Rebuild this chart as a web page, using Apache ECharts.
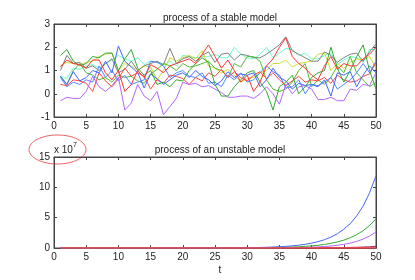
<!DOCTYPE html>
<html><head><meta charset="utf-8">
<script src="https://cdn.jsdelivr.net/npm/echarts@6/dist/echarts.min.js"></script>
<style>html,body{margin:0;padding:0;background:#fff}#c{width:415px;height:280px}</style>
</head><body><div id="c"></div>
<script>
// ---- data ----
const tValues = [1,2,3,4,5,6,7,8,9,10,11,12,13,14,15,16,17,18,19,20,21,22,23,24,25,26,27,28,29,30,31,32,33,34,35,36,37,38,39,40,41,42,43,44,45,46,47,48,49,50];
const xTicks = [0,5,10,15,20,25,30,35,40,45,50];
const stableTitle = "process of a stable model";
const unstableTitle = "process of an unstable model";
const xLabel = "t";

const stableGray   = [1.0,1.65,1.3,1.35,1.1,1.2,1.0,1.3,1.5,0.9,1.05,1.4,1.0,1.2,1.3,1.4,1.25,1.95,1.3,1.5,1.6,1.4,1.65,1.8,1.35,1.7,1.75,1.45,1.7,1.65,1.55,1.55,1.7,1.9,2.1,2.45,1.85,1.7,1.55,1.4,1.4,1.8,1.65,1.35,1.55,1.7,1.75,1.4,1.8,2.15];
const stableRed1   = [1.15,1.45,1.3,1.25,1.1,1.45,1.45,0.9,0.6,1.0,0.1,0.4,1.0,0.7,1.25,1.1,0.9,1.2,1.3,1.4,1.5,1.3,1.7,2.1,1.6,1.1,1.45,1.0,0.5,0.8,0.1,0.5,1.2,1.5,2.0,2.4,1.6,1.3,1.1,0.8,0.6,1.2,1.6,1.05,1.3,1.2,1.2,1.5,1.7,2.0];
const stableRed2   = [0.4,0.35,0.6,0.55,0.45,0.1,0.9,0.55,0.3,0.65,1.1,0.75,0.9,0.75,0.2,0.6,0.45,0.8,0.75,0.65,0.4,0.7,0.55,0.9,0.75,1.05,0.7,0.95,0.7,0.55,0.8,0.95,0.65,0.9,0.6,0.35,0.55,0.75,0.5,0.6,0.55,0.7,0.45,0.8,0.6,0.5,0.55,0.75,0.85,1.35];
const stableGreen1 = [1.65,1.9,1.4,1.2,1.3,1.6,1.55,1.75,1.75,1.0,1.5,1.9,1.1,0.8,1.0,0.4,0.5,0.3,0.6,0.55,1.0,1.3,1.55,1.35,0.4,-0.1,-0.1,0.3,0.6,0.9,1.0,0.5,0.1,-0.7,0.3,0.5,0.8,0.0,0.3,0.7,0.9,1.0,2.0,1.1,0.5,1.0,1.6,2.1,1.0,0.2];
const stableGreen2 = [0.75,0.4,1.0,1.3,0.9,0.8,0.6,0.7,0.5,0.8,0.7,0.75,0.55,0.45,0.85,1.05,1.3,1.2,1.0,1.3,1.15,1.2,1.3,1.4,1.1,1.0,0.7,1.3,1.15,1.6,1.6,1.4,0.6,0.2,0.1,0.2,0.5,1.0,1.3,0.3,0.6,0.4,0.7,1.2,0.9,1.6,0.9,0.6,0.3,0.5];
const stableBlue1  = [0.75,0.4,0.95,0.55,0.7,1.0,0.9,1.4,0.9,2.05,1.4,1.15,0.9,0.25,0.85,0.65,0.4,0.6,0.8,0.9,0.7,1.0,0.75,0.6,0.35,0.55,0.95,0.7,0.85,0.8,0.9,0.3,0.6,1.1,0.7,0.55,0.2,0.45,0.35,0.4,0.3,0.6,-0.1,0.9,0.8,0.95,0.3,0.8,1.2,0.9];
const stableBlue2  = [0.7,0.3,0.5,0.4,0.6,0.5,1.2,0.7,1.0,0.55,0.8,0.4,0.5,0.6,1.4,1.35,1.2,0.7,0.9,1.0,0.75,0.7,0.9,0.45,0.5,0.3,0.8,0.6,0.9,0.5,0.6,0.9,1.2,0.95,0.8,0.25,0.3,0.6,0.0,0.4,0.35,0.5,0.7,0.2,0.4,0.6,0.9,1.3,0.9,1.4];
const stablePurple = [-0.3,-0.15,-0.2,-0.2,0.1,0.75,0.3,0.1,0.35,0.7,-0.7,-0.4,0.4,-0.1,-0.3,0.1,-0.9,-0.55,-0.2,0.5,0.4,0.45,0.3,0.35,0.2,0.05,-0.15,-0.15,-0.1,-0.1,-0.2,0.0,0.3,0.0,-0.45,0.4,0.0,0.3,0.35,0.2,-0.25,-0.25,-0.15,-0.3,-0.3,0.2,0.15,0.4,0.35,0.9];
const stableAqua   = [0.75,0.65,1.1,1.05,1.2,1.25,1.1,1.3,1.45,1.65,1.5,1.4,1.55,1.25,1.4,1.35,1.25,1.4,1.2,1.65,1.6,1.55,1.6,1.6,1.7,1.55,1.55,2.0,1.7,1.55,1.5,1.7,2.0,1.55,1.75,1.95,1.9,1.65,1.75,1.5,1.5,1.65,1.75,1.25,1.45,1.6,1.55,1.35,1.9,1.9];
const stableYellow = [1.2,1.35,1.3,1.25,1.35,1.4,1.6,1.7,1.75,1.0,1.3,1.2,1.0,1.2,1.15,0.6,1.0,1.55,1.4,1.55,1.65,1.5,1.85,1.2,1.1,0.9,1.05,0.8,0.5,0.65,0.7,0.9,1.0,1.3,1.3,1.45,1.15,1.3,1.35,1.4,1.7,1.75,1.0,1.3,1.1,1.35,1.5,1.45,1.6,1.1];

// unstable process, in units of 1e7
const unstableBlue   = [0,0,0,0,0,0,0,0,0,0,0,0,0,0.001,0.001,0.001,0.002,0.002,0.003,0.004,0.005,0.006,0.008,0.011,0.014,0.018,0.024,0.031,0.041,0.054,0.071,0.093,0.12,0.16,0.21,0.27,0.36,0.47,0.61,0.8,1.05,1.37,1.8,2.35,3.1,4.0,5.3,6.9,9.1,11.9];
const unstableGreen  = [0,0,0,0,0,0,0,0,0,0,0,0,0,0,0,0,0,0.001,0.001,0.001,0.002,0.002,0.003,0.004,0.005,0.007,0.009,0.011,0.015,0.025,0.033,0.042,0.055,0.072,0.093,0.12,0.16,0.21,0.27,0.35,0.45,0.59,0.77,1.0,1.3,1.7,2.2,2.85,3.7,4.8];
const unstablePurple = [0,0,0,0,0,0,0,0,0,0,0,0,0,0,0,0,0,0,0,0,0,0.001,0.001,0.001,0.002,0.002,0.003,0.004,0.005,0.007,0.009,0.012,0.017,0.023,0.031,0.042,0.057,0.077,0.1,0.14,0.18,0.25,0.33,0.45,0.6,0.81,1.09,1.47,1.97,2.65];
const unstableDark   = [0,0,0,0,0,0,0,0,0,0,0,0,0,0,0,0,0,0,0,0,0,0,0,0,0,0,0,0,0.001,0.001,0.002,0.002,0.003,0.004,0.005,0.007,0.009,0.012,0.015,0.02,0.026,0.034,0.044,0.057,0.074,0.096,0.12,0.16,0.21,0.27];
const unstableRed    = [0,0,0,0,0,0,0,0,0,0,0,0,0,0,0,0,0,0,0,0,0,0,0,0,0,0,0,0,0,0,0,0,0,0,0,0,0,0,0,0,0,0,0,0,0,0,0,0,0,0];
const stableTicks = [-1,0,1,2,3];
const unstableTicks = [0,5,10,15];

// ---- chart ----
const FONT = "Liberation Sans";
const pairs = arr => arr.map((v,i)=>[tValues[i], v]);
const stableSet = [
  [stableAqua,'#66ffcc'],[stableYellow,'#ccdd33'],[stableGray,'#808080'],[stableGreen2,'#55bb33'],
  [stableBlue2,'#5588ff'],[stableRed2,'#ff4444'],[stablePurple,'#b366ff'],[stableBlue1,'#4466ff'],
  [stableGreen1,'#33aa33'],[stableRed1,'#ff3333']
];
const unstableSet = [
  [unstableDark,'#993366'],[unstablePurple,'#b366ff'],[unstableGreen,'#33aa33'],[unstableBlue,'#4466ff'],[unstableRed,'#ff4444']
];
const axisLine = {show:true, onZero:false, lineStyle:{color:'#444', width:1}};
const tick = {show:true, inside:true, length:3, lineStyle:{color:'#444'}};
const lbl = {color:'#222', fontSize:10, fontFamily:FONT};

function xAxes(gi){
  return [
    {gridIndex:gi, type:'value', min:0, max:50, interval:5, position:'bottom',
     axisLine, axisTick:tick, axisLabel:Object.assign({margin:4, formatter:v=>xTicks.includes(v)?String(v):''},lbl), splitLine:{show:false}},
    {gridIndex:gi, type:'value', min:0, max:50, interval:5, position:'top',
     axisLine, axisTick:tick, axisLabel:{show:false}, splitLine:{show:false}}
  ];
}
function yAxes(gi,min,max,iv,ticks){
  return [
    {gridIndex:gi, type:'value', min, max, interval:iv, position:'left',
     axisLine, axisTick:tick, axisLabel:Object.assign({margin:4, formatter:v=>ticks.includes(v)?String(v):''},lbl), splitLine:{show:false}},
    {gridIndex:gi, type:'value', min, max, interval:iv, position:'right',
     axisLine, axisTick:tick, axisLabel:{show:false}, splitLine:{show:false}}
  ];
}
const series = [];
stableSet.forEach(([d,c])=>series.push({type:'line', xAxisIndex:0, yAxisIndex:0, data:pairs(d), showSymbol:false, symbol:'none', lineStyle:{color:c, width:1}, silent:true, animation:false}));
unstableSet.forEach(([d,c],i)=>series.push({type:'line', xAxisIndex:2, yAxisIndex:2, data:pairs(d), showSymbol:false, symbol:'none', lineStyle:{color:c, width: i===unstableSet.length-1?1.6:1}, silent:true, animation:false}));

const chart = echarts.init(document.getElementById('c'), null, {renderer:'canvas'});
chart.setOption({
  backgroundColor:'#fff',
  animation:false,
  title:[
    {text:stableTitle, left:215, top:8, textAlign:'center', textStyle:{fontSize:10, fontWeight:'normal', color:'#222', fontFamily:FONT}},
    {text:unstableTitle, left:215, top:140, textAlign:'center', textStyle:{fontSize:10, fontWeight:'normal', color:'#222', fontFamily:FONT}},
    {text:xLabel, left:215, top:260, textAlign:'center', textStyle:{fontSize:10, fontWeight:'normal', color:'#222', fontFamily:FONT}}
  ],
  grid:[
    {left:54, top:24, width:322, height:93, show:true, borderColor:'#444', borderWidth:1, backgroundColor:'transparent'},
    {left:54, top:157, width:322, height:91, show:true, borderColor:'#444', borderWidth:1, backgroundColor:'transparent'}
  ],
  xAxis:[...xAxes(0), ...xAxes(1)],
  yAxis:[...yAxes(0,-1,3,1,stableTicks), ...yAxes(1,0,15,5,unstableTicks)],
  series,
  graphic:[
    {type:'text', left:54, top:142, style:{text:'{a|x 10}{s|7}', rich:{a:{fontSize:10, fontFamily:FONT, fill:'#222', padding:[3,0,0,0]}, s:{fontSize:7, fontFamily:FONT, fill:'#222', verticalAlign:'top'}}}},
    {type:'ellipse', shape:{cx:57.5, cy:149.5, rx:28.5, ry:14.5}, style:{fill:'none', stroke:'#f06060', lineWidth:1}}
  ]
});
</script></body></html>
